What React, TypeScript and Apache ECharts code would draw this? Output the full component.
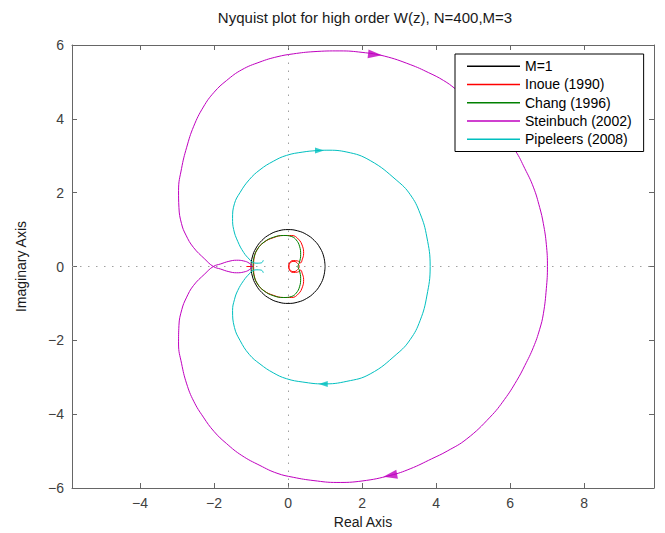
import React, { useEffect, useRef } from 'react';
import * as echarts from 'echarts';

const titleText = 'Nyquist plot for high order W(z), N=400,M=3';
const seriesNames = ['M=1', 'Inoue (1990)', 'Chang (1996)', 'Steinbuch (2002)', 'Pipeleers (2008)'];
const seriesColors = ['#000000', '#ff0000', '#008000', '#bf00bf', '#00bfbf'];
const xTicks = [-4, -2, 0, 2, 4, 6, 8];
const yTicks = [-6, -4, -2, 0, 2, 4, 6];

const unitCircle = [
  [1, 0], [0.966, 0.259], [0.866, 0.5], [0.707, 0.707], [0.5, 0.866], [0.259, 0.966], [0, 1],
  [-0.259, 0.966], [-0.5, 0.866], [-0.707, 0.707], [-0.866, 0.5], [-0.966, 0.259], [-1, 0],
  [-0.966, -0.259], [-0.866, -0.5], [-0.707, -0.707], [-0.5, -0.866], [-0.259, -0.966], [0, -1],
  [0.259, -0.966], [0.5, -0.866], [0.707, -0.707], [0.866, -0.5], [0.966, -0.259], [1, 0],
];

const inoue = [
  [-1.12, 0], [-0.94, 0.0], [-0.92, 0.22], [-0.84, 0.45], [-0.66, 0.65], [-0.4, 0.78], [-0.12, 0.84],
  [0.1, 0.84], [0.28, 0.74], [0.39, 0.55], [0.42, 0.35], [0.38, 0.18], [0.34, 0.1], [0.26, 0.15],
  [0.14, 0.16], [0.04, 0.1], [0.02, 0.0], [0.06, -0.1], [0.16, -0.14], [0.26, -0.08], [0.3, 0.0],
  [0.26, 0.08], [0.16, 0.14], [0.06, 0.1], [0.02, 0.0], [0.04, -0.1], [0.14, -0.16], [0.26, -0.15],
  [0.34, -0.1], [0.38, -0.18], [0.42, -0.35], [0.39, -0.55], [0.28, -0.74], [0.1, -0.84],
  [-0.12, -0.84], [-0.4, -0.78], [-0.66, -0.65], [-0.84, -0.45], [-0.92, -0.22], [-0.94, 0.0], [-1.12, 0],
];

const chang = [
  [-0.95, 0], [-0.92, 0.25], [-0.82, 0.48], [-0.65, 0.66], [-0.4, 0.79], [-0.12, 0.84], [0.1, 0.81],
  [0.22, 0.72], [0.31, 0.55], [0.34, 0.32], [0.31, 0.12], [0.27, 0.0], [0.31, -0.12], [0.34, -0.32],
  [0.31, -0.55], [0.22, -0.72], [0.1, -0.81], [-0.12, -0.84], [-0.4, -0.79], [-0.65, -0.66],
  [-0.82, -0.48], [-0.92, -0.25], [-0.95, 0],
];

const steinbuch = [
  [-0.97, 0], [-1.05, -0.09], [-1.2, -0.15], [-1.39, -0.17], [-1.6, -0.14], [-1.82, -0.07], [-2.02, 0],
  [-2.25, 0.2], [-2.56, 0.52], [-2.76, 0.85], [-2.88, 1.16], [-2.95, 1.6], [-2.96, 2.06], [-2.88, 2.65],
  [-2.74, 3.23], [-2.55, 3.8], [-2.29, 4.32], [-2.0, 4.72], [-1.66, 5.04], [-1.25, 5.33], [-0.76, 5.54],
  [-0.3, 5.68], [0.14, 5.76], [0.7, 5.82], [1.4, 5.84], [2.0, 5.8], [2.6, 5.7], [3.3, 5.47], [3.8, 5.25],
  [4.2, 5.04], [4.51, 4.82], [5.0, 4.4], [5.5, 3.9], [5.85, 3.5], [6.14, 3.14], [6.4, 2.65], [6.63, 2.15],
  [6.8, 1.6], [6.9, 1.16], [6.98, 0.6], [7.01, 0], [6.98, -0.6], [6.9, -1.28], [6.8, -1.7], [6.63, -2.19],
  [6.4, -2.68], [6.18, -3.09], [5.85, -3.6], [5.46, -4.08], [4.83, -4.67], [4.3, -5.0], [3.88, -5.21],
  [3.3, -5.48], [2.76, -5.66], [2.0, -5.81], [1.32, -5.85], [0.7, -5.8], [0.14, -5.71], [-0.3, -5.6],
  [-0.76, -5.39], [-1.25, -5.12], [-1.66, -4.8], [-2.0, -4.47], [-2.29, -4.08], [-2.55, -3.65],
  [-2.74, -3.18], [-2.88, -2.62], [-2.96, -2.1], [-2.95, -1.6], [-2.87, -1.16], [-2.75, -0.85],
  [-2.56, -0.52], [-2.25, -0.2], [-2.02, 0], [-1.82, 0.07], [-1.6, 0.14], [-1.39, 0.17], [-1.2, 0.15],
  [-1.05, 0.09], [-0.97, 0],
];

const pipeleers = [
  [-0.67, 0.17], [-0.72, 0.1], [-0.84, 0.09], [-0.95, 0.11], [-1.05, 0.2], [-1.2, 0.38], [-1.36, 0.68],
  [-1.47, 1.0], [-1.5, 1.3], [-1.45, 1.7], [-1.3, 2.0], [-1.05, 2.35], [-0.76, 2.62], [-0.4, 2.85],
  [-0.04, 3.01], [0.4, 3.1], [0.78, 3.14], [1.05, 3.15], [1.59, 3.1], [2.22, 2.87], [2.94, 2.33],
  [3.3, 1.95], [3.57, 1.43], [3.75, 0.8], [3.84, 0], [3.75, -0.8], [3.57, -1.46], [3.3, -1.98],
  [2.94, -2.37], [2.22, -2.91], [1.59, -3.11], [0.95, -3.18], [0.4, -3.13], [-0.04, -3.04], [-0.4, -2.88],
  [-0.76, -2.64], [-1.05, -2.38], [-1.3, -2.0], [-1.45, -1.65], [-1.5, -1.19], [-1.45, -0.9],
  [-1.36, -0.65], [-1.2, -0.38], [-1.05, -0.2], [-0.95, -0.11], [-0.84, -0.09], [-0.72, -0.1], [-0.67, -0.17],
];

// arrow heads: [re, im, rotation in degrees]
const steinbuchArrows = [[2.35, 5.74, -96], [2.76, -5.66, 100]];
const pipeleersArrows = [[0.85, 3.14, -90], [0.95, -3.18, 90]];

const FONT = '"Liberation Sans", Arial, Helvetica, sans-serif';
const X_MIN = -5.84;
const X_MAX = 9.89;

const minusFmt = (v: number) => String(v).replace('-', '\u2212');

export default function App() {
  const ref = useRef<HTMLDivElement>(null);
  useEffect(() => {
    if (!ref.current) return;
    const chart = echarts.init(ref.current, undefined, { renderer: 'svg' });
    const frame = { show: true, onZero: false, lineStyle: { color: '#666', width: 1 } };
    const tick = { show: true, inside: true, length: 5, lineStyle: { color: '#666', width: 1 } };
    const curves = [unitCircle, inoue, chang, steinbuch, pipeleers];
    const lineSeries: any[] = curves.map((d, i) => ({
      name: seriesNames[i],
      type: 'line',
      data: d,
      smooth: 0.45,
      symbol: 'none',
      showSymbol: false,
      lineStyle: { color: seriesColors[i], width: 1 },
      itemStyle: { color: seriesColors[i] },
      z: 3,
      ...(i === 0
        ? {
            markLine: {
              silent: true,
              symbol: 'none',
              label: { show: false },
              lineStyle: { type: [1.5, 6.5], color: '#a0a0a0', width: 1 },
              data: [{ xAxis: 0 }, { yAxis: 0 }],
              z: 1,
            },
          }
        : {}),
    }));
    const arrowSeries = [
      { arr: steinbuchArrows, color: seriesColors[3], size: [9, 14] },
      { arr: pipeleersArrows, color: seriesColors[4], size: [6, 9] },
    ].map((a, k) => ({
      name: 'arrow' + k,
      type: 'scatter',
      data: a.arr.map((p) => ({ value: [p[0], p[1]], symbolRotate: p[2] })),
      symbol: 'triangle',
      symbolSize: a.size,
      itemStyle: { color: a.color },
      silent: true,
      z: 4,
    }));
    chart.setOption({
      animation: false,
      backgroundColor: '#ffffff',
      title: {
        text: titleText,
        left: 360,
        top: 5,
        textAlign: 'center',
        textStyle: { fontSize: 15, fontWeight: 'normal', color: '#1a1a1a', fontFamily: FONT },
      },
      grid: { left: 72, right: 11, top: 45, bottom: 45, containLabel: false, outerBoundsMode: 'none' },
      legend: {
        data: seriesNames,
        orient: 'vertical',
        left: 455,
        top: 54,
        icon: 'rect',
        itemWidth: 53,
        itemHeight: 1.5,
        itemGap: 0,
        padding: [3, 12, 3, 12],
        borderColor: '#000',
        borderWidth: 1,
        backgroundColor: '#fff',
        itemStyle: { borderWidth: 0 },
        textStyle: { fontSize: 14, lineHeight: 18.3, color: '#000', fontFamily: FONT },
        z: 10,
      },
      xAxis: [
        {
          type: 'value',
          min: X_MIN,
          max: X_MAX,
          position: 'bottom',
          name: 'Real Axis',
          nameLocation: 'middle',
          nameGap: 25,
          nameTextStyle: { fontSize: 14, color: '#1a1a1a', fontFamily: FONT },
          axisLine: frame,
          axisTick: { ...tick, customValues: xTicks },
          axisLabel: { customValues: xTicks, formatter: minusFmt, fontSize: 14, color: '#404040', fontFamily: FONT, margin: 8 },
          splitLine: { show: false },
        },
        {
          type: 'value',
          min: X_MIN,
          max: X_MAX,
          position: 'top',
          axisLine: frame,
          axisTick: { ...tick, customValues: xTicks },
          axisLabel: { show: false },
          splitLine: { show: false },
        },
      ],
      yAxis: [
        {
          type: 'value',
          min: -6,
          max: 6,
          interval: 2,
          position: 'left',
          name: 'Imaginary Axis',
          nameLocation: 'middle',
          nameGap: 44,
          nameTextStyle: { fontSize: 14, color: '#1a1a1a', fontFamily: FONT },
          axisLine: frame,
          axisTick: { ...tick, customValues: yTicks },
          axisLabel: { customValues: yTicks, formatter: minusFmt, fontSize: 14, color: '#404040', fontFamily: FONT, margin: 8 },
          splitLine: { show: false },
        },
        {
          type: 'value',
          min: -6,
          max: 6,
          interval: 2,
          position: 'right',
          axisLine: frame,
          axisTick: { ...tick, customValues: yTicks },
          axisLabel: { show: false },
          splitLine: { show: false },
        },
      ],
      series: [...lineSeries, ...arrowSeries],
    });
    return () => chart.dispose();
  }, []);
  return <div ref={ref} style={{ position: 'fixed', left: 0, top: 0, width: 665, height: 533 }} />;
}
